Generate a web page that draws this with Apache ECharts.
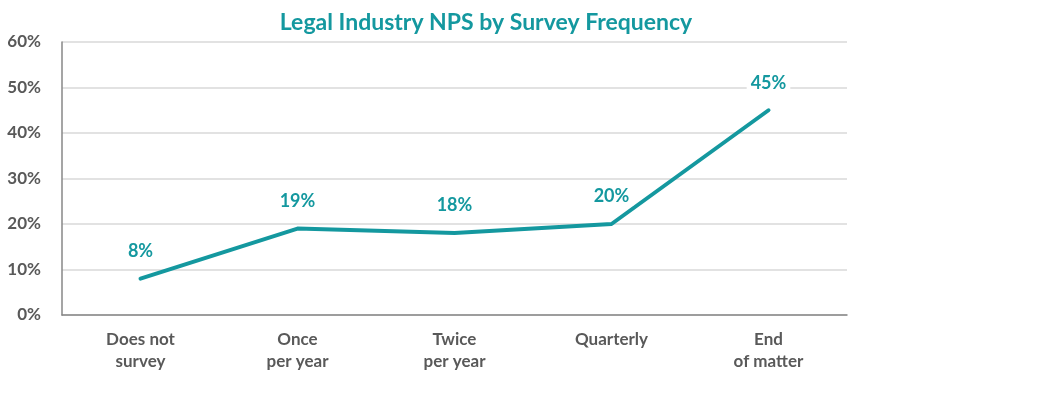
<!DOCTYPE html>
<html><head><meta charset="utf-8">
<script src="https://cdn.jsdelivr.net/npm/echarts@6/dist/echarts.min.js"></script>
<style>html,body{margin:0;padding:0;background:#fff}#c{width:1047px;height:395px}</style>
</head><body><div id="c"></div>
<script>
const categories = ["Does not\nsurvey", "Once\nper year", "Twice\nper year", "Quarterly", "End\nof matter"];
const npsValues = [8, 19, 18, 20, 45];
const yTicks = [0, 10, 20, 30, 40, 50, 60];
const teal = "#14989F";
const font = "Lato, 'Open Sans', sans-serif";
const chart = echarts.init(document.getElementById('c'));
chart.setOption({
  animation: false,
  title: { text: "Legal Industry NPS by Survey Frequency", left: 481, textAlign: 'center', top: 6,
    textStyle: { color: teal, fontSize: 23, fontWeight: 'bold', fontFamily: font } },
  grid: { left: 62, right: 200, top: 42, bottom: 80 },
  xAxis: { type: 'category', data: categories, boundaryGap: true,
    axisLine: { lineStyle: { color: '#878787', width: 1.5 } }, axisTick: { show: false },
    axisLabel: { color: '#595959', fontSize: 17, fontWeight: 'bold', fontFamily: font, lineHeight: 22, margin: 14 } },
  yAxis: { type: 'value', min: yTicks[0], max: yTicks[yTicks.length-1], interval: 10,
    axisLine: { show: true, lineStyle: { color: '#878787', width: 1.5 } }, axisTick: { show: false },
    splitLine: { lineStyle: { color: '#d9d9d9', width: 1.5 } },
    axisLabel: { formatter: v => v + '%', color: '#595959', fontSize: 17, fontWeight: 'bold', fontFamily: font, margin: 21 } },
  series: [{ type: 'line', data: npsValues, showSymbol: true, symbol: 'circle', symbolSize: 1,
    itemStyle: { color: teal },
    lineStyle: { color: teal, width: 4, cap: 'round', join: 'round' },
    label: { show: true, position: 'top', distance: 18, formatter: p => p.value + '%', color: teal,
      fontSize: 18, fontWeight: 'bold', fontFamily: font, backgroundColor: '#fff', padding: [0, 4] } }]
});
</script></body></html>
